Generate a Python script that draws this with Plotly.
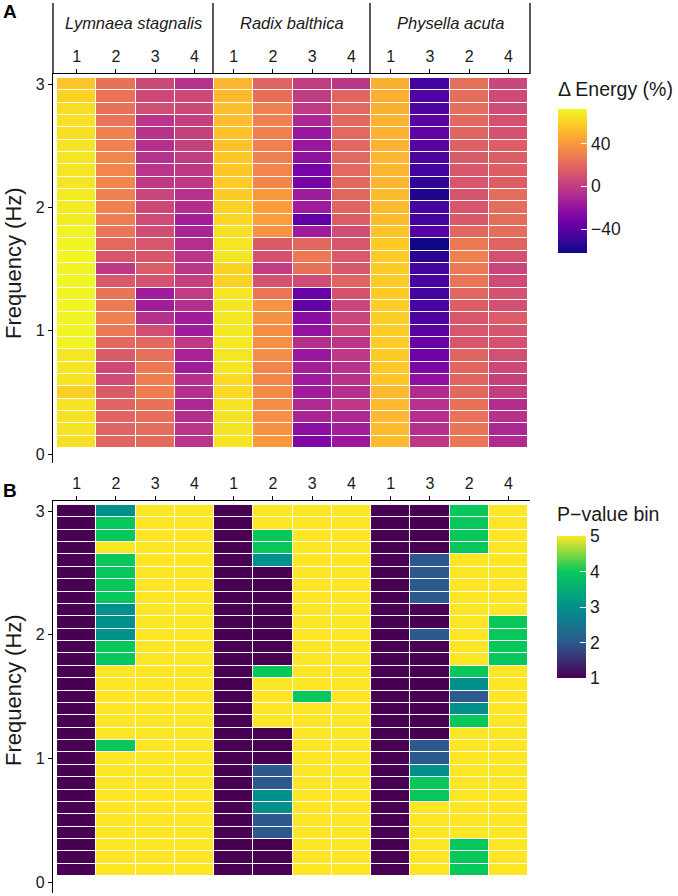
import plotly.graph_objects as go

# frequency rows, top (3.0 Hz) to bottom (0.1 Hz)
freq_hz = [3.0, 2.9, 2.8, 2.7, 2.6, 2.5, 2.4, 2.3, 2.2, 2.1,
           2.0, 1.9, 1.8, 1.7, 1.6, 1.5, 1.4, 1.3, 1.2, 1.1,
           1.0, 0.9, 0.8, 0.7, 0.6, 0.5, 0.4, 0.3, 0.2, 0.1]

species = ["Lymnaea stagnalis", "Radix balthica", "Physella acuta"]
sample_labels = ["1", "2", "3", "4", "1", "2", "3", "4", "1", "3", "2", "4"]

# --- Panel A: delta energy (%) per column, rows follow freq_hz ---
lym_1 = [55, 60, 63, 64, 64, 65, 66, 66, 66, 68, 68, 68, 70, 71, 71, 70, 71, 71, 71, 70, 71, 70, 66, 66, 65, 59, 65, 65, 65, 64]
lym_2 = [24, 24, 24, 25, 30, 30, 32, 32, 32, 30, 30, 28, 25, 20, 12, -2, 13, 25, 27, 30, 27, 20, 14, 6, 7, 14, 18, 18, 18, 18]
lym_3 = [6, 6, 8, -4, -5, -6, -5, -4, -2, 4, 6, 7, 8, 12, 12, 15, 10, -15, -15, -6, 8, 20, 23, 27, 29, 29, 24, 23, 22, 21]
lym_4 = [-5, 6, 6, 2, 2, 2, 0, -2, -2, -5, -7, -14, -11, -6, -4, -3, 2, 0, -6, -15, -15, -2, -12, -15, -6, -6, -10, -7, -3, -4]
rad_1 = [50, 51, 53, 53, 54, 54, 56, 56, 57, 57, 60, 61, 64, 66, 66, 60, 60, 66, 66, 66, 67, 67, 66, 66, 62, 62, 65, 65, 65, 65]
rad_2 = [18, 23, 30, 30, 30, 30, 30, 32, 32, 40, 42, 42, 37, 14, 10, 0, 10, 26, 38, 37, 36, 36, 35, 32, 32, 34, 35, 36, 37, 40]
rad_3 = [1, 0, -1, -10, -18, -18, -22, -30, -30, -16, -16, -38, -16, 19, 27, 24, 7, -36, -37, -24, -21, -6, -19, -14, -16, -15, -9, -11, -23, -28]
rad_4 = [-3, 19, 20, 20, 20, 20, 20, 20, 20, 19, 18, 15, 8, 12, 13, 13, 18, 10, 4, 4, 4, -3, -2, -5, -5, -6, -2, -9, -14, -18]
phy_1 = [48, 48, 48, 49, 49, 49, 50, 50, 50, 52, 52, 52, 55, 57, 57, 57, 57, 57, 58, 58, 58, 58, 57, 56, 56, 51, 51, 51, 52, 52]
phy_3 = [-48, -44, -44, -40, -38, -41, -45, -48, -53, -57, -47, -48, -42, -62, -55, -48, -46, -48, -46, -45, -40, -35, -33, -29, -22, -8, -5, -6, -6, -2]
phy_2 = [23, 22, 22, 20, 18, 17, 14, 12, 12, 11, 12, 13, 19, 27, 30, 27, 25, 19, 16, 12, 12, 12, 18, 19, 18, 20, 24, 24, 25, 26]
phy_4 = [5, 7, 7, 10, 10, 16, 16, 16, 16, 22, 22, 22, 22, 18, 10, 4, 7, 10, 9, 15, 11, 10, 9, 6, 2, 1, -7, -5, -10, -8]
energy_min, energy_max = -62, 72

# --- Panel B: p-value bin per column ---
lym_1_p = [1] * 30
lym_2_p = [3, 4, 4, 5, 4, 4, 4, 4, 3, 3, 3, 4, 4, 5, 5, 5, 5, 5, 5, 4, 5, 5, 5, 5, 5, 5, 5, 5, 5, 5]
lym_3_p = [5] * 30
lym_4_p = [5] * 30
rad_1_p = [1] * 30
rad_2_p = [5, 5, 4, 4, 3, 1, 1, 1, 1, 1, 1, 1, 1, 4, 5, 5, 5, 5, 1, 1, 1, 2, 2, 3, 3, 2, 2, 1, 1, 1]
rad_3_p = [5, 5, 5, 5, 5, 5, 5, 5, 5, 5, 5, 5, 5, 5, 5, 4, 5, 5, 5, 5, 5, 5, 5, 5, 5, 5, 5, 5, 5, 5]
rad_4_p = [5] * 30
phy_1_p = [1] * 30
phy_3_p = [1, 1, 1, 1, 2, 2, 2, 2, 1, 1, 2, 1, 1, 1, 1, 1, 1, 1, 1, 2, 2, 3, 4, 4, 5, 5, 5, 5, 5, 5]
phy_2_p = [4, 4, 4, 4, 5, 5, 5, 5, 5, 5, 5, 5, 5, 4, 3, 2, 3, 4, 5, 5, 5, 5, 5, 5, 5, 5, 5, 4, 4, 4]
phy_4_p = [5, 5, 5, 5, 5, 5, 5, 5, 5, 4, 4, 4, 4, 5, 5, 5, 5, 5, 5, 5, 5, 5, 5, 5, 5, 5, 5, 5, 5, 5]

energy_cols = [lym_1, lym_2, lym_3, lym_4, rad_1, rad_2, rad_3, rad_4, phy_1, phy_3, phy_2, phy_4]
pval_cols = [lym_1_p, lym_2_p, lym_3_p, lym_4_p, rad_1_p, rad_2_p, rad_3_p, rad_4_p, phy_1_p, phy_3_p, phy_2_p, phy_4_p]

# the bin legend in the original is a 5-stop viridis-like gradient
pval_scale = [[0.0, "#480152"], [0.25, "#2c5a8e"], [0.5, "#00918c"],
              [0.75, "#08c85c"], [1.0, "#fde725"]]

W, H = 678, 896
FONT = "Liberation Sans, Arial, sans-serif"
INK = "#1a1a1a"


def px_x(p):
    return p / W


def px_y(p):
    return 1 - p / H


def to_rows(cols):
    # heatmap z is row-major: one row per frequency
    return [[c[i] for c in cols] for i in range(len(freq_hz))]


col_pos = list(range(len(sample_labels)))

fig = go.Figure()

fig.add_trace(go.Heatmap(
    x=col_pos, y=freq_hz, z=to_rows(energy_cols),
    colorscale="Plasma", zmin=energy_min, zmax=energy_max,
    xgap=1, ygap=1, xaxis="x", yaxis="y",
    colorbar=dict(
        x=px_x(558), xanchor="left", xpad=0,
        y=px_y(109), yanchor="top", ypad=0,
        len=144, lenmode="pixels", thickness=29, outlinewidth=0,
        tickvals=[-40, 0, 40], ticktext=["\u221240", "0", "40"],
        ticks="inside", ticklen=6, tickcolor="white", tickwidth=1,
        tickfont=dict(family=FONT, size=17.5, color=INK),
    ),
))

fig.add_trace(go.Heatmap(
    x=col_pos, y=freq_hz, z=to_rows(pval_cols),
    colorscale=pval_scale, zmin=1, zmax=5,
    xgap=1, ygap=1, xaxis="x2", yaxis="y2",
    colorbar=dict(
        x=px_x(557), xanchor="left", xpad=0,
        y=px_y(536), yanchor="top", ypad=0,
        len=142, lenmode="pixels", thickness=29, outlinewidth=0,
        tickvals=[1, 2, 3, 4, 5],
        ticks="inside", ticklen=6, tickcolor="white", tickwidth=1,
        tickfont=dict(family=FONT, size=17.5, color=INK),
    ),
))

x_common = dict(
    domain=[px_x(53), px_x(530)], range=[-0.602, 11.551],
    side="top", tickmode="array", tickvals=col_pos, ticktext=sample_labels,
    ticks="outside", ticklen=4, tickcolor="black", tickwidth=1.2,
    showline=True, linecolor="black", linewidth=1.3,
    showgrid=False, zeroline=False,
    tickfont=dict(family=FONT, size=16, color=INK),
)
y_common = dict(
    tickmode="array", tickvals=[0, 1, 2, 3],
    ticks="outside", ticklen=4, tickcolor="black", tickwidth=1.2,
    showline=True, linecolor="black", linewidth=1.3,
    showgrid=False, zeroline=False,
    tickfont=dict(family=FONT, size=16, color=INK),
)

fig.update_layout(
    width=W, height=H,
    margin=dict(l=0, r=0, t=0, b=0),
    paper_bgcolor="white", plot_bgcolor="white",
    font=dict(family=FONT, color=INK),
    xaxis=dict(anchor="y", **x_common),
    yaxis=dict(anchor="x", domain=[px_y(463), px_y(74)], range=[-0.0716, 3.0824], **y_common),
    xaxis2=dict(anchor="y2", **x_common),
    yaxis2=dict(anchor="x2", domain=[px_y(893), px_y(501)], range=[-0.087, 3.082], **y_common),
)

# facet strips above panel A
strip_edges = [53, 213, 370, 530]
for xe in strip_edges:
    fig.add_shape(type="line", xref="paper", yref="paper",
                  x0=px_x(xe), x1=px_x(xe), y0=px_y(3), y1=px_y(74),
                  line=dict(color="black", width=1.3))
for i, name in enumerate(species):
    fig.add_annotation(x=px_x((strip_edges[i] + strip_edges[i + 1]) / 2), y=px_y(23),
                       xref="paper", yref="paper", xanchor="center", yanchor="middle",
                       text=f"<i>{name}</i>", showarrow=False,
                       font=dict(family=FONT, size=16.5, color=INK))

# panel letters, axis titles, legend titles
for letter, yc in [("A", 12), ("B", 490)]:
    fig.add_annotation(x=px_x(1), y=px_y(yc), xref="paper", yref="paper",
                       xanchor="left", yanchor="middle",
                       text=f"<b>{letter}</b>", showarrow=False,
                       font=dict(family=FONT, size=19, color="black"))
for yc in [263, 690]:
    fig.add_annotation(x=px_x(13), y=px_y(yc), xref="paper", yref="paper",
                       xanchor="center", yanchor="middle",
                       text="Frequency (Hz)", textangle=-90, showarrow=False,
                       font=dict(family=FONT, size=22, color=INK))
fig.add_annotation(x=px_x(556), y=px_y(89), xref="paper", yref="paper",
                   xanchor="left", yanchor="middle",
                   text="\u0394 Energy (%)", showarrow=False,
                   font=dict(family=FONT, size=19.5, color=INK))
fig.add_annotation(x=px_x(555), y=px_y(514), xref="paper", yref="paper",
                   xanchor="left", yanchor="middle",
                   text="P\u2212value bin", showarrow=False,
                   font=dict(family=FONT, size=19.5, color=INK))

# drop the browser's default body margin so the figure sits at the page corner
fig.write_html("out.html", config={"displayModeBar": False},
               post_script="document.body.style.margin = '0';")
